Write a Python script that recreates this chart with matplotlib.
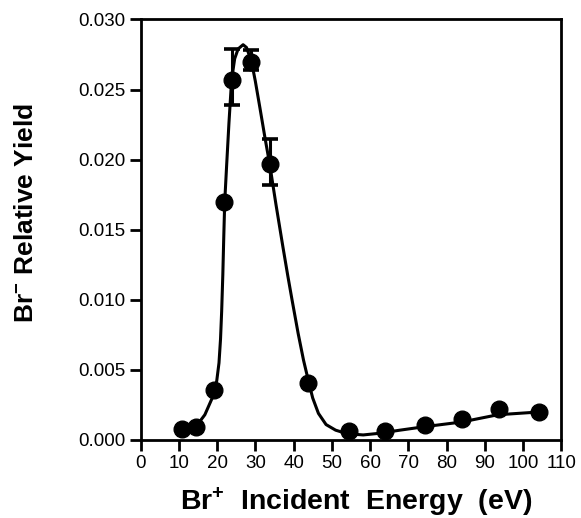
import matplotlib
matplotlib.use("Agg")
import matplotlib.pyplot as plt

# Pontos medidos (energia incidente em eV, rendimento relativo de Br-)
energy = [10.7, 14.5, 19.3, 21.9, 24.0, 29.0, 33.9, 43.9, 54.5, 64.0, 74.4, 84.1, 93.6, 104.3]
rel_yield = [0.00075, 0.00092, 0.0036, 0.0170, 0.0257, 0.0270, 0.0197, 0.0041,
             0.00066, 0.00064, 0.00105, 0.00148, 0.0022, 0.0020]

# Barras de erro (assimetricas) em tres pontos
err_energy = [24.0, 29.0, 33.9]
err_yield = [0.0257, 0.0270, 0.0197]
err_low = [0.0018, 0.0006, 0.0015]
err_high = [0.0022, 0.0008, 0.0018]

# Curva ajustada
curve_energy = [9.8, 12.0, 14.4, 16.8, 18.9, 19.9, 20.5, 20.9, 21.2, 21.5, 21.75, 22.0,
                22.5, 23.1, 23.8, 24.6, 25.5, 26.8, 27.7, 29.0, 30.0, 31.2, 32.5, 33.8,
                35.4, 37.2, 38.5, 39.6, 41.2, 42.6, 43.9, 45.0, 46.5, 48.5, 51.0, 54.0,
                58.2, 62.5, 67.8, 74.3, 83.9, 93.4, 104.3]
curve_yield = [0.00036, 0.0006, 0.00093, 0.0018, 0.0031, 0.0042, 0.0055, 0.0072, 0.0092,
               0.0118, 0.0145, 0.0170, 0.0196, 0.0226, 0.0257, 0.0272, 0.0279, 0.0282,
               0.0280, 0.0270, 0.0256, 0.0237, 0.0216, 0.0196, 0.0168, 0.0138, 0.0117,
               0.0100, 0.0076, 0.0057, 0.0042, 0.0030, 0.0019, 0.0011, 0.0007, 0.00045,
               0.00036, 0.00048, 0.0007, 0.00095, 0.00128, 0.0018, 0.0020]

xticks = list(range(0, 111, 10))
yticks = [0.000, 0.005, 0.010, 0.015, 0.020, 0.025, 0.030]

plt.rcParams["font.family"] = ["Liberation Sans", "DejaVu Sans"]
plt.rcParams["mathtext.fontset"] = "custom"
plt.rcParams["mathtext.rm"] = "Liberation Sans:bold"
plt.rcParams["mathtext.bf"] = "Liberation Sans:bold"
plt.rcParams["mathtext.default"] = "bf"

fig = plt.figure(figsize=(5.81, 5.18), dpi=100)
ax = fig.add_axes([0.242, 0.1506, 0.724, 0.8118])

ax.plot(curve_energy, curve_yield, color="black", lw=2.2, zorder=2)
ax.plot(energy, rel_yield, "o", color="black", ms=12, zorder=3)
ax.errorbar(err_energy, err_yield, yerr=[err_low, err_high], fmt="none",
            ecolor="black", elinewidth=2.2, capsize=6, capthick=2.6, zorder=4)

ax.set_xlim(0, 110)
ax.set_ylim(0, 0.030)
ax.set_xticks(xticks)
ax.set_yticks(yticks)
ax.set_yticklabels([f"{t:.3f}" for t in yticks])

for s in ax.spines.values():
    s.set_linewidth(2.0)
ax.tick_params(direction="out", length=8, width=2.0, labelsize=13.5, pad=3)

ax.set_xlabel("Br$^{+}$  Incident  Energy  (eV)", fontsize=20.5, fontweight="bold", labelpad=10)
ax.xaxis.label.set_x(0.512)
ax.set_ylabel("Br$^{-}$ Relative Yield", fontsize=19, fontweight="bold")
ax.yaxis.set_label_coords(-0.244, 0.54)

fig.savefig("out.png", dpi=100)
